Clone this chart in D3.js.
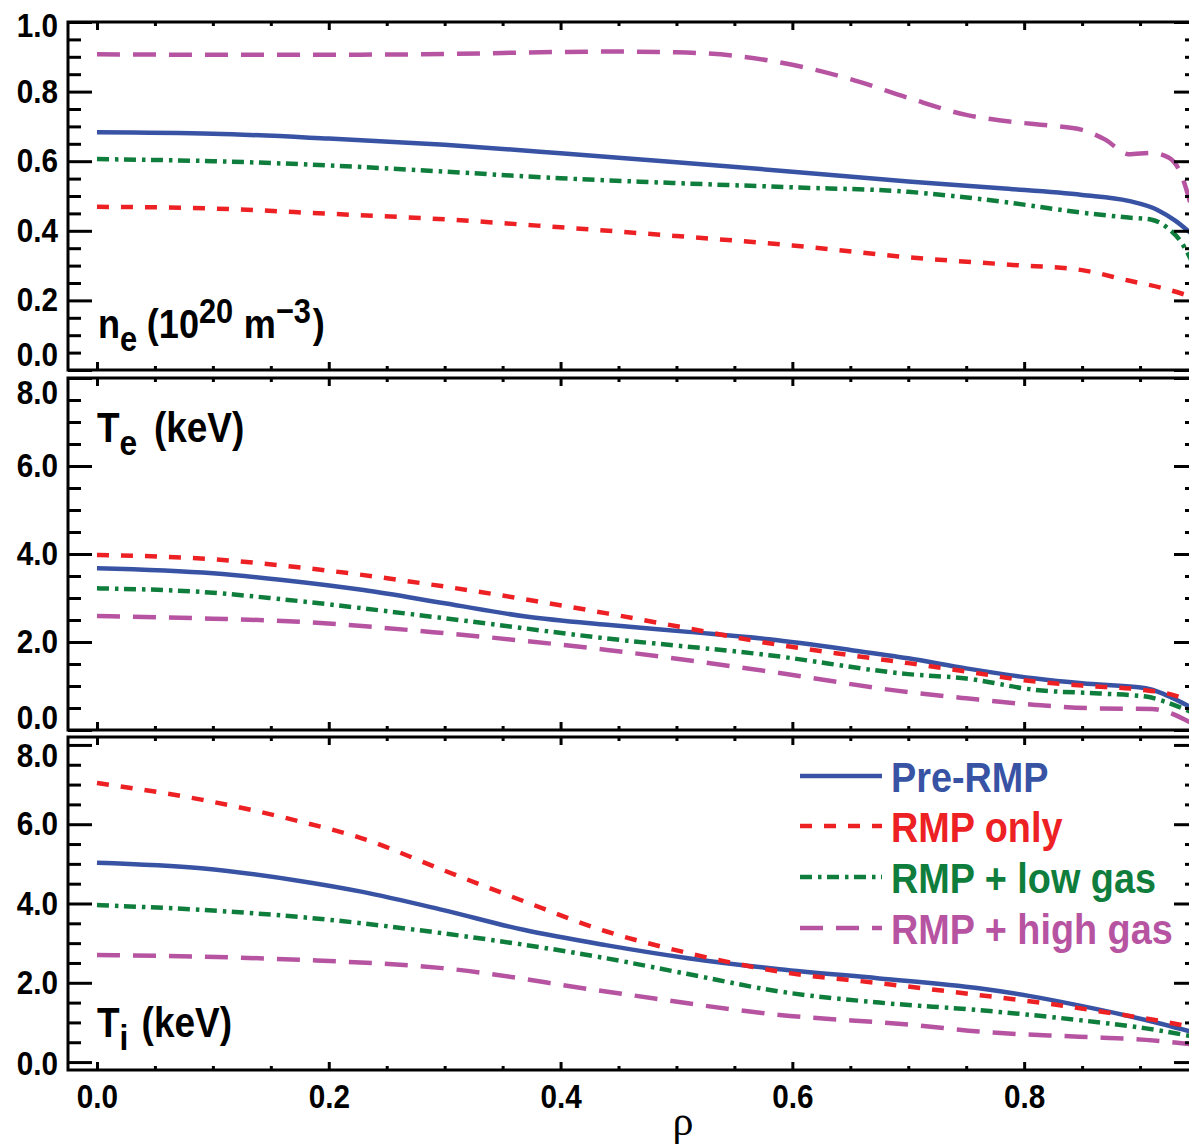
<!DOCTYPE html>
<html>
<head>
<meta charset="utf-8">
<script src="https://cdn.jsdelivr.net/npm/d3@7"></script>
<style>
  html, body { margin: 0; padding: 0; background: #fff; }
  svg { display: block; }
  text.sans { font-family: "Liberation Sans", Arial, sans-serif; font-weight: bold; }
  text.serif { font-family: "Liberation Serif", "DejaVu Serif", serif; font-weight: normal; }
</style>
</head>
<body>
<svg id="chart" width="1189" height="1148"></svg>
<script>
// ---- series ----
const seriesNames  = ["Pre-RMP", "RMP only", "RMP + low gas", "RMP + high gas"];
const seriesColors = ["#3953a4", "#ed2024", "#0f7d3c", "#b654a2"];
const seriesDashes = [null, "12,12", "12,6,3.5,5.5", "23,13"];

// ---- electron density n_e (10^20 m^-3) ----
const neRhoPre  = [0, .1, .2, .3, .4, .5, .6, .7, .78, .85, .89, .915, .93, .945];
const nePre     = [.683, .679, .665, .647, .623, .597, .57, .542, .522, .503, .486, .46, .43, .39];
const neRhoRmp  = [0, .1, .2, .3, .4, .5, .6, .7, .79, .85, .89, .92, .945];
const neRmp     = [.469, .464, .449, .433, .41, .385, .358, .324, .302, .287, .257, .235, .21];
const neRhoLow  = [0, .1, .2, .3, .4, .5, .6, .7, .78, .85, .89, .91, .925, .935, .945];
const neLow     = [.606, .6, .588, .57, .551, .537, .525, .512, .484, .452, .438, .432, .405, .37, .31];
const neRhoHigh = [0, .1, .2, .3, .35, .4, .45, .5, .55, .6, .65, .7, .75, .79, .82, .85, .87, .89, .91, .925, .935, .945];
const neHigh    = [.907, .906, .906, .908, .911, .914, .915, .913, .903, .877, .836, .782, .733, .713, .703, .69, .662, .62, .624, .61, .566, .46];

// ---- electron temperature T_e (keV) ----
const teRhoPre  = [0, .1, .16, .23, .3, .37, .44, .51, .58, .65, .7, .75, .81, .85, .905, .922, .945];
const tePre     = [3.675, 3.56, 3.41, 3.18, 2.88, 2.58, 2.39, 2.23, 2.06, 1.82, 1.63, 1.40, 1.17, 1.06, .95, .80, .5];
const teRhoRmp  = [0, .1, .17, .3, .44, .51, .58, .65, .7, .75, .8, .85, .9, .925, .945];
const teRmp     = [3.98, 3.88, 3.71, 3.26, 2.65, 2.31, 1.97, 1.70, 1.52, 1.33, 1.13, 1.01, .92, .82, .65];
const teRhoLow  = [0, .1, .16, .3, .44, .58, .7, .75, .81, .865, .905, .922, .945];
const teLow     = [3.22, 3.12, 2.97, 2.54, 2.08, 1.70, 1.27, 1.17, .91, .83, .76, .64, .4];
const teRhoHigh = [0, .1, .16, .3, .44, .58, .7, .75, .81, .865, .91, .922, .945];
const teHigh    = [2.59, 2.53, 2.48, 2.20, 1.82, 1.33, .86, .72, .57, .49, .48, .42, .15];

// ---- ion temperature T_i (keV) ----
const tiRhoPre  = [0, .09, .175, .228, .298, .369, .439, .51, .589, .675, .761, .804, .847, .905, .945];
const tiPre     = [5.03, 4.89, 4.57, 4.30, 3.84, 3.33, 2.95, 2.62, 2.34, 2.11, 1.86, 1.67, 1.43, 1.06, .76];
const tiRhoRmp  = [0, .09, .175, .228, .298, .369, .439, .51, .589, .675, .761, .819, .876, .905, .945];
const tiRmp     = [7.04, 6.62, 6.07, 5.65, 4.85, 4.05, 3.30, 2.75, 2.28, 1.99, 1.69, 1.48, 1.23, 1.10, .88];
const tiRhoLow  = [0, .09, .175, .298, .439, .51, .589, .675, .761, .847, .905, .945];
const tiLow     = [3.96, 3.84, 3.66, 3.25, 2.62, 2.22, 1.78, 1.50, 1.31, 1.06, .85, .65];
const tiRhoHigh = [0, .09, .175, .298, .439, .589, .707, .761, .847, .905, .945];
const tiHigh    = [2.70, 2.66, 2.58, 2.37, 1.78, 1.19, .93, .77, .64, .56, .45];

// ---- axis ticks ----
const xMajorTicks = [0, 0.2, 0.4, 0.6, 0.8];
const xTickLabels = ["0.0", "0.2", "0.4", "0.6", "0.8"];
const neMajorTicks = [0, 0.2, 0.4, 0.6, 0.8, 1.0];
const neTickLabels = ["0.0", "0.2", "0.4", "0.6", "0.8", "1.0"];
const tMajorTicks = [0, 2, 4, 6, 8];
const tTickLabels = ["0.0", "2.0", "4.0", "6.0", "8.0"];

// ---- layout ----
const svg = d3.select("#chart");
const L = 68, R = 1198;
const x = d3.scaleLinear().domain([-0.025, 0.95]).range([L, R]);
const xMinorTicks = d3.range(0, 0.951, 0.05).filter(v => Math.abs(v * 5 - Math.round(v * 5)) > 1e-6);

const zip = (a, b) => a.map((r, i) => [r, b[i]]);

// end labels of stacked panels are pulled inward so neighbouring panels' labels don't collide
const panels = [
  { top: 22,  bottom: 370,  domain: [0, 1],      majors: neMajorTicks, labels: neTickLabels, minorStep: 0.05,
    nudge: { first: -15, last: 4 },
    series: [zip(neRhoPre, nePre), zip(neRhoRmp, neRmp), zip(neRhoLow, neLow), zip(neRhoHigh, neHigh)] },
  { top: 378, bottom: 730,  domain: [0, 8],      majors: tMajorTicks,  labels: tTickLabels,  minorStep: 0.5,
    nudge: { first: -12, last: 15 },
    series: [zip(teRhoPre, tePre), zip(teRhoRmp, teRmp), zip(teRhoLow, teLow), zip(teRhoHigh, teHigh)] },
  { top: 737, bottom: 1070, domain: [-0.2, 8.2], majors: tMajorTicks,  labels: tTickLabels,  minorStep: 0.5,
    nudge: { first: 2, last: 11 },
    series: [zip(tiRhoPre, tiPre), zip(tiRhoRmp, tiRmp), zip(tiRhoLow, tiLow), zip(tiRhoHigh, tiHigh)] }
];

const axisStyle = g => {
  g.select(".domain").remove();
  g.selectAll(".tick line").attr("stroke", "#000").attr("stroke-width", 3);
};

panels.forEach((p, pi) => {
  const y = d3.scaleLinear().domain(p.domain).range([p.bottom, p.top]);
  const g = svg.append("g");

  const clipId = "clip" + pi;
  svg.append("clipPath").attr("id", clipId)
    .append("rect").attr("x", L).attr("y", p.top).attr("width", R - L).attr("height", p.bottom - p.top);

  // profile curves
  const line = d3.line().x(d => x(d[0])).y(d => y(d[1])).curve(d3.curveMonotoneX);
  const curves = g.append("g").attr("clip-path", `url(#${clipId})`);
  p.series.forEach((s, si) => {
    curves.append("path")
      .attr("d", line(s))
      .attr("fill", "none")
      .attr("stroke", seriesColors[si])
      .attr("stroke-width", 4.5)
      .attr("stroke-dasharray", seriesDashes[si]);
  });

  // y minor ticks (left and right) and right major ticks
  const yMinor = d3.range(p.domain[0] < 0 ? 0 : p.domain[0], p.domain[1] + 1e-9, p.minorStep)
    .filter(v => !p.majors.some(m => Math.abs(m - v) < 1e-9));
  g.append("g").attr("transform", `translate(${L},0)`)
    .call(d3.axisLeft(y).tickValues(yMinor).tickSize(-13).tickFormat(""))
    .call(axisStyle);
  g.append("g").attr("transform", `translate(${R},0)`)
    .call(d3.axisRight(y).tickValues(yMinor).tickSize(-13).tickFormat(""))
    .call(axisStyle);
  g.append("g").attr("transform", `translate(${R},0)`)
    .call(d3.axisRight(y).tickValues(p.majors).tickSize(-24).tickFormat(""))
    .call(axisStyle);

  // y major ticks with labels
  const yAx = g.append("g").attr("transform", `translate(${L},0)`)
    .call(d3.axisLeft(y).tickValues(p.majors).tickSize(-24).tickPadding(11)
      .tickFormat((d, i) => p.labels[i]))
    .call(axisStyle);
  yAx.selectAll(".tick text")
    .attr("class", "sans")
    .attr("font-family", null).attr("font-size", 33).attr("fill", "#000")
    .attr("transform", (d, i) => {
      let dy = 0;
      if (i === 0) dy = p.nudge.first;
      if (i === p.majors.length - 1) dy = p.nudge.last;
      return `translate(0,${dy}) scale(0.9,1)`;
    });

  // x ticks on top and bottom of each panel
  [[d3.axisTop, p.top], [d3.axisBottom, p.bottom]].forEach(([ax, yy]) => {
    g.append("g").attr("transform", `translate(0,${yy})`)
      .call(ax(x).tickValues(xMinorTicks).tickSize(-4).tickFormat(""))
      .call(axisStyle);
    const major = g.append("g").attr("transform", `translate(0,${yy})`)
      .call(ax(x).tickValues(xMajorTicks).tickSize(-8).tickPadding(15)
        .tickFormat((d, i) => (pi === 2 && ax === d3.axisBottom) ? xTickLabels[i] : ""))
      .call(axisStyle);
    major.selectAll(".tick text")
      .attr("class", "sans")
      .attr("font-family", null).attr("font-size", 33).attr("fill", "#000")
      .attr("transform", "scale(0.9,1)");
  });

  // frame
  g.append("rect")
    .attr("x", L).attr("y", p.top).attr("width", R - L).attr("height", p.bottom - p.top)
    .attr("fill", "none").attr("stroke", "#000").attr("stroke-width", 3);
});

// ---- panel titles ----
function title(xp, yp, size, parts) {
  const t = svg.append("text").attr("class", "sans")
    .attr("transform", `translate(${xp},${yp}) scale(0.88,1)`)
    .attr("font-size", size).attr("fill", "#000");
  parts.forEach(pt => {
    const s = t.append("tspan").text(pt.t);
    if (pt.dy) s.attr("dy", pt.dy);
    if (pt.dx) s.attr("dx", pt.dx);
    if (pt.fs) s.attr("font-size", pt.fs);
  });
}
title(98, 338, 41, [
  { t: "n" },
  { t: "e", dy: 13, fs: 35 },
  { t: "(10", dy: -13, dx: 11 },
  { t: "20", dy: -15, fs: 35 },
  { t: "m", dy: 15, dx: 12 },
  { t: "\u22123", dy: -15, fs: 35 },
  { t: ")", dy: 15, dx: 2 }
]);
title(97, 442, 42, [
  { t: "T" },
  { t: "e", dy: 13, fs: 36 },
  { t: "(keV)", dy: -13, dx: 19 }
]);
title(97, 1037, 42, [
  { t: "T" },
  { t: "i", dy: 13, fs: 36 },
  { t: "(keV)", dy: -13, dx: 15 }
]);

// ---- x axis title ----
svg.append("text").attr("class", "serif")
  .attr("x", 683).attr("y", 1135)
  .attr("text-anchor", "middle")
  .attr("font-size", 42).attr("fill", "#000")
  .text("\u03c1");

// ---- legend ----
const legendY = [792, 842, 893, 944];
const leg = svg.append("g");
seriesNames.forEach((name, i) => {
  leg.append("line")
    .attr("x1", 800).attr("x2", 882)
    .attr("y1", legendY[i] - 16).attr("y2", legendY[i] - 16)
    .attr("stroke", seriesColors[i]).attr("stroke-width", 4.5)
    .attr("stroke-dasharray", seriesDashes[i]);
  leg.append("text").attr("class", "sans")
    .attr("transform", `translate(891,${legendY[i]}) scale(0.9,1)`)
    .attr("font-size", 42).attr("fill", seriesColors[i])
    .text(name);
});
</script>
</body>
</html>
